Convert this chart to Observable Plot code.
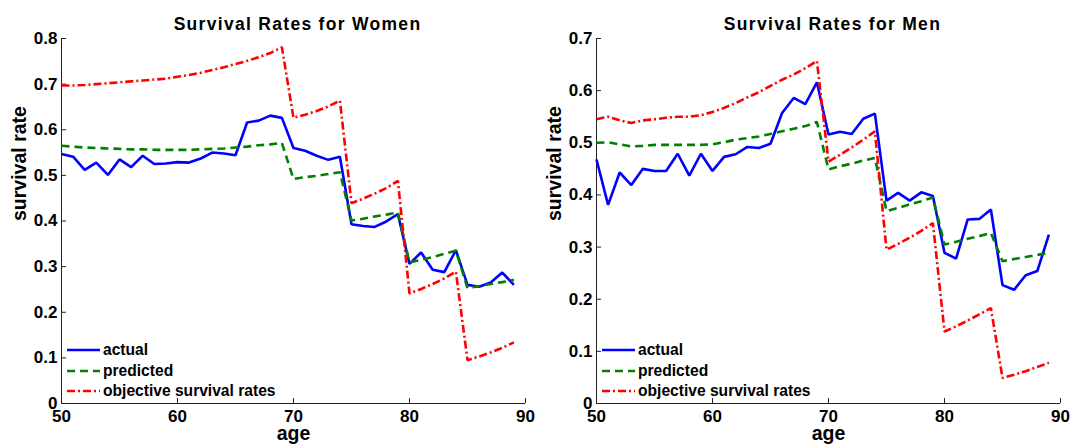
<!DOCTYPE html>
<html>
<head>
<meta charset="utf-8">
<script src="https://cdn.jsdelivr.net/npm/d3@7"></script>
<script src="https://cdn.jsdelivr.net/npm/@observablehq/plot@0.6"></script>
<style>
  html, body { margin: 0; padding: 0; background: white; }
  #wrap { display: flex; width: 1073px; height: 448px; }
  .panel { position: relative; height: 448px; }
  .legend { position: absolute; font-family: "Liberation Sans", Arial, sans-serif; font-weight: bold; font-size: 15.6px; color: black; }
  .legend .row { display: flex; align-items: center; height: 20.5px; }
  .legend svg { display: block; margin-right: 3px; }
</style>
</head>
<body>
<div id="wrap"></div>
<script>
// ---- data ----
const ages = [50,51,52,53,54,55,56,57,58,59,60,61,62,63,64,65,66,67,68,69,
              70,71,72,73,74,75,76,77,78,79,80,81,82,83,84,85,86,87,88,89];
const xTicks = [50, 60, 70, 80, 90];
const yTicksWomen = [0, 0.1, 0.2, 0.3, 0.4, 0.5, 0.6, 0.7, 0.8];
const yTicksMen = [0, 0.1, 0.2, 0.3, 0.4, 0.5, 0.6, 0.7];
const seriesNames = ["actual", "predicted", "objective survival rates"];

const womenActual = [0.547,0.541,0.512,0.528,0.501,0.535,0.518,0.543,0.525,0.526,
  0.529,0.528,0.537,0.550,0.548,0.544,0.616,0.620,0.631,0.626,
  0.560,0.554,0.543,0.534,0.541,0.393,0.389,0.387,0.399,0.415,
  0.306,0.331,0.293,0.288,0.336,0.260,0.256,0.265,0.287,0.260];
const womenPredicted = [0.565,0.563,0.561,0.560,0.559,0.558,0.557,0.557,0.556,0.556,
  0.556,0.556,0.557,0.558,0.559,0.561,0.563,0.566,0.568,0.571,
  0.492,0.496,0.499,0.503,0.507,0.401,0.405,0.410,0.414,0.419,
  0.309,0.315,0.321,0.328,0.335,0.253,0.257,0.262,0.266,0.271];
const womenObjective = [0.697,0.697,0.698,0.700,0.702,0.704,0.706,0.708,0.710,0.712,
  0.716,0.720,0.725,0.731,0.737,0.744,0.751,0.759,0.768,0.781,
  0.626,0.633,0.641,0.651,0.664,0.439,0.449,0.460,0.472,0.488,
  0.241,0.251,0.262,0.274,0.289,0.095,0.103,0.112,0.122,0.134];

const menActual = [0.468,0.381,0.443,0.419,0.450,0.446,0.446,0.479,0.437,0.479,
  0.446,0.473,0.478,0.492,0.490,0.498,0.557,0.586,0.574,0.616,
  0.516,0.521,0.517,0.546,0.556,0.389,0.404,0.389,0.405,0.398,
  0.289,0.278,0.353,0.354,0.372,0.227,0.218,0.246,0.254,0.324];
const menPredicted = [0.500,0.501,0.497,0.493,0.494,0.496,0.496,0.496,0.496,0.496,
  0.497,0.501,0.506,0.509,0.512,0.517,0.522,0.527,0.532,0.540,
  0.449,0.455,0.460,0.466,0.471,0.369,0.375,0.382,0.388,0.395,
  0.305,0.310,0.316,0.321,0.327,0.273,0.277,0.281,0.285,0.289];
const menObjective = [0.545,0.550,0.543,0.538,0.543,0.545,0.548,0.550,0.550,0.553,
  0.559,0.567,0.576,0.587,0.597,0.609,0.621,0.631,0.643,0.657,
  0.464,0.477,0.491,0.506,0.522,0.295,0.306,0.318,0.331,0.346,
  0.138,0.148,0.159,0.171,0.183,0.049,0.055,0.062,0.070,0.078];

// ---- styles ----
const FONT = '"Liberation Sans", Arial, sans-serif';
const styles = [
  {stroke: "#0000ff", strokeDasharray: null},
  {stroke: "#008000", strokeDasharray: "8,5"},
  {stroke: "#ff0000", strokeDasharray: "8,3,2,3"}
];
const fmt = d => d === 0 ? "0" : d3.format(".1f")(d);

function panel({title, yTicks, ymax, series, width, marginLeft, marginRight}) {
  const plot = Plot.plot({
    width, height: 448,
    marginLeft, marginRight, marginTop: 38, marginBottom: 45,
    x: {domain: [50, 90]},
    y: {domain: [0, ymax]},
    style: {fontFamily: FONT, fontWeight: "bold", fontSize: "17px", color: "black", background: "white", overflow: "visible"},
    marks: [
      Plot.axisX({ticks: xTicks, tickSize: 0, tickPadding: 6, label: null, fontSize: 17, fontWeight: "bold"}),
      Plot.axisY({ticks: yTicks, tickSize: 0, tickPadding: 4, tickFormat: fmt, label: null, fontSize: 17, fontWeight: "bold"}),
      // inward tick marks
      Plot.ruleX(xTicks, {x: d => d, y1: 0, y2: ymax * 0.0135, stroke: "#222", strokeWidth: 1}),
      Plot.ruleY(yTicks, {y: d => d, x1: 50, x2: 50.43, stroke: "#222", strokeWidth: 1}),
      Plot.ruleX([50], {stroke: "#222", strokeWidth: 1}),
      Plot.ruleY([0], {stroke: "#222", strokeWidth: 1}),
      ...series.map((vals, i) => Plot.line(vals, {
        x: ages, y: d => d,
        stroke: styles[i].stroke, strokeWidth: 2.6,
        strokeDasharray: styles[i].strokeDasharray,
        strokeLinejoin: "miter", strokeLinecap: "butt"
      })),
      Plot.text([title], {frameAnchor: "top", dy: -21, dx: 4, fontSize: 17.5, fontWeight: "bold", fill: "black"}),
      Plot.text(["age"], {frameAnchor: "bottom", dy: 36.5, fontSize: 19.5, fontWeight: "bold", fill: "black"}),
      Plot.text(["survival rate"], {frameAnchor: "left", dx: -42, rotate: -90, fontSize: 19.5, fontWeight: "bold", fill: "black"})
    ]
  });
  d3.select(plot).selectAll("text").filter(function() { return this.textContent === title; })
    .attr("letter-spacing", "1.3");
  const div = document.createElement("div");
  div.className = "panel";
  div.style.width = width + "px";
  div.appendChild(plot);
  // legend
  const leg = document.createElement("div");
  leg.className = "legend";
  leg.style.left = (marginLeft + 6) + "px";
  leg.style.top = "340px";
  seriesNames.forEach((name, i) => {
    const row = document.createElement("div");
    row.className = "row";
    const dash = styles[i].strokeDasharray ? ` stroke-dasharray="${styles[i].strokeDasharray}"` : "";
    row.innerHTML = `<svg width="33" height="6"><line x1="0" y1="3" x2="33" y2="3" stroke="${styles[i].stroke}" stroke-width="2.6"${dash}/></svg><span>${name}</span>`;
    leg.appendChild(row);
  });
  div.appendChild(leg);
  return div;
}

const wrap = document.getElementById("wrap");
wrap.appendChild(panel({
  title: "Survival Rates for Women", yTicks: yTicksWomen, ymax: 0.8,
  series: [womenActual, womenPredicted, womenObjective],
  width: 536, marginLeft: 61, marginRight: 11
}));
wrap.appendChild(panel({
  title: "Survival Rates for Men", yTicks: yTicksMen, ymax: 0.7,
  series: [menActual, menPredicted, menObjective],
  width: 537, marginLeft: 60, marginRight: 13
}));
</script>
</body>
</html>
